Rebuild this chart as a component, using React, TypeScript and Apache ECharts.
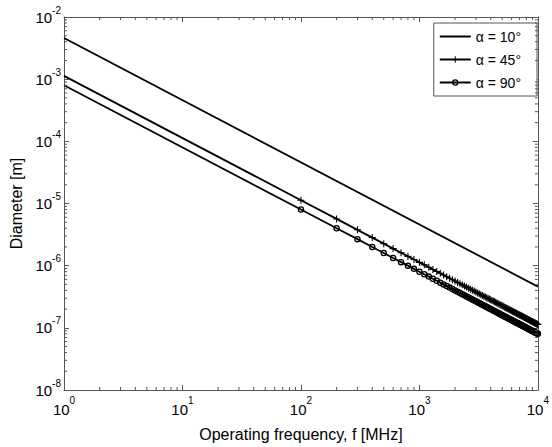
import React, { useEffect, useRef } from "react";
import * as echarts from "echarts";

// Operating frequency samples [MHz]
const freqMHz = [
  1, 100, 200, 300, 400, 500, 600, 700, 800, 900, 1000,
  1100, 1200, 1300, 1400, 1500, 1600, 1700, 1800, 1900, 2000,
  2100, 2200, 2300, 2400, 2500, 2600, 2700, 2800, 2900, 3000,
  3100, 3200, 3300, 3400, 3500, 3600, 3700, 3800, 3900, 4000,
  4100, 4200, 4300, 4400, 4500, 4600, 4700, 4800, 4900, 5000,
  5100, 5200, 5300, 5400, 5500, 5600, 5700, 5800, 5900, 6000,
  6100, 6200, 6300, 6400, 6500, 6600, 6700, 6800, 6900, 7000,
  7100, 7200, 7300, 7400, 7500, 7600, 7700, 7800, 7900, 8000,
  8100, 8200, 8300, 8400, 8500, 8600, 8700, 8800, 8900, 9000,
  9100, 9200, 9300, 9400, 9500, 9600, 9700, 9800, 9900, 10000,
];

// alpha = 10 deg (no markers): end points [MHz] and diameters [um]
const freq10 = [1, 10000];
const diam10um = [4600, 0.46];

// alpha = 45 deg diameters [um]
const diam45um = [
  1130, 11.3, 5.65, 3.77, 2.83, 2.26, 1.88, 1.61, 1.41, 1.26, 1.13,
  1.03, 0.942, 0.869, 0.807, 0.753, 0.706, 0.665, 0.628, 0.595, 0.565,
  0.538, 0.514, 0.491, 0.471, 0.452, 0.435, 0.419, 0.404, 0.39, 0.377,
  0.365, 0.353, 0.342, 0.332, 0.323, 0.314, 0.305, 0.297, 0.29, 0.283,
  0.276, 0.269, 0.263, 0.257, 0.251, 0.246, 0.24, 0.235, 0.231, 0.226,
  0.222, 0.217, 0.213, 0.209, 0.205, 0.202, 0.198, 0.195, 0.192, 0.188,
  0.185, 0.182, 0.179, 0.177, 0.174, 0.171, 0.169, 0.166, 0.164, 0.161,
  0.159, 0.157, 0.155, 0.153, 0.151, 0.149, 0.147, 0.145, 0.143, 0.141,
  0.14, 0.138, 0.136, 0.135, 0.133, 0.131, 0.13, 0.128, 0.127, 0.126,
  0.124, 0.123, 0.122, 0.12, 0.119, 0.118, 0.116, 0.115, 0.114, 0.113,
];

// alpha = 90 deg diameters [um]
const diam90um = [
  800, 8, 4, 2.67, 2, 1.6, 1.33, 1.14, 1, 0.889, 0.8,
  0.727, 0.667, 0.615, 0.571, 0.533, 0.5, 0.471, 0.444, 0.421, 0.4,
  0.381, 0.364, 0.348, 0.333, 0.32, 0.308, 0.296, 0.286, 0.276, 0.267,
  0.258, 0.25, 0.242, 0.235, 0.229, 0.222, 0.216, 0.211, 0.205, 0.2,
  0.195, 0.19, 0.186, 0.182, 0.178, 0.174, 0.17, 0.167, 0.163, 0.16,
  0.157, 0.154, 0.151, 0.148, 0.145, 0.143, 0.14, 0.138, 0.136, 0.133,
  0.131, 0.129, 0.127, 0.125, 0.123, 0.121, 0.119, 0.118, 0.116, 0.114,
  0.113, 0.111, 0.11, 0.108, 0.107, 0.105, 0.104, 0.103, 0.101, 0.1,
  0.0988, 0.0976, 0.0964, 0.0952, 0.0941, 0.093, 0.092, 0.0909, 0.0899, 0.0889,
  0.0879, 0.087, 0.086, 0.0851, 0.0842, 0.0833, 0.0825, 0.0816, 0.0808, 0.08,
];

const seriesNames = ["α = 10°", "α = 45°", "α = 90°"];

// Axis ranges and minor tick multipliers
const X_MIN = 1;
const X_MAX = 10000;
const Y_MIN = 1e-8;
const Y_MAX = 1e-2;
const xDecades = [1, 10, 100, 1000];
const yDecades = [1e-8, 1e-7, 1e-6, 1e-5, 1e-4, 1e-3];
const minorMultipliers = [2, 3, 4, 5, 6, 7, 8, 9];

const FONT = "'Liberation Sans', Arial, Helvetica, sans-serif";
const AXIS_COLOR = "#555";
const UM = 1e-6;

const PLUS_PATH =
  "path://M-0.15,-1H0.15V-0.15H1V0.15H0.15V1H-0.15V0.15H-1V-0.15H-0.15Z";
// open ring (outer clockwise, inner counter-clockwise -> hole)
const RING_PATH =
  "path://M1,0A1,1 0 1,1 -1,0A1,1 0 1,1 1,0Z M0.6,0A0.6,0.6 0 1,0 -0.6,0A0.6,0.6 0 1,0 0.6,0Z";

function expOf(v: number) {
  return Math.round(Math.log10(v));
}

export default function App() {
  const ref = useRef<HTMLDivElement>(null);

  useEffect(() => {
    if (!ref.current) return;
    const chart = echarts.init(ref.current, undefined, { renderer: "svg" });

    const minorData: number[][] = [];
    xDecades.forEach((d) =>
      minorMultipliers.forEach((m) => minorData.push([m * d, 1e-5, 0]))
    );
    yDecades.forEach((d) =>
      minorMultipliers.forEach((m) => minorData.push([10, m * d, 1]))
    );

    const data10 = freq10.map((f, i) => [f, diam10um[i] * UM]);
    const data45 = freqMHz.map((f, i) =>
      i === 0
        ? { value: [f, diam45um[i] * UM], symbol: "none" }
        : [f, diam45um[i] * UM]
    );
    const data90 = freqMHz.map((f, i) =>
      i === 0
        ? { value: [f, diam90um[i] * UM], symbol: "none" }
        : [f, diam90um[i] * UM]
    );

    const baseAxis = {
      type: "log" as const,
      logBase: 10,
      axisLine: { show: true, lineStyle: { color: AXIS_COLOR, width: 1 } },
      axisTick: { show: true, inside: true, length: 5, lineStyle: { color: AXIS_COLOR } },
      splitLine: { show: false },
      minorTick: { show: false },
    };

    const xLabelRich = {
      b: { fontSize: 15, fontFamily: FONT, color: "#000", verticalAlign: "middle", lineHeight: 28 },
      s: { fontSize: 10, fontFamily: FONT, color: "#000", verticalAlign: "top", lineHeight: 10 },
    };
    const yLabelRich = {
      b: { fontSize: 15, fontFamily: FONT, color: "#000", verticalAlign: "middle", lineHeight: 24 },
      s: { fontSize: 10, fontFamily: FONT, color: "#000", verticalAlign: "top", lineHeight: 10 },
    };

    chart.setOption({
      animation: false,
      backgroundColor: "#fff",
      grid: { left: 64, right: 11, top: 17, bottom: 56, containLabel: false },
      legend: {
        data: [
          { name: seriesNames[0], itemStyle: { opacity: 0 } },
          { name: seriesNames[1] },
          { name: seriesNames[2] },
        ],
        orient: "vertical",
        right: 15,
        top: 23,
        padding: [5, 16, 5, 5],
        itemWidth: 31,
        itemHeight: 8,
        itemGap: 6,
        itemTextGap: 4,
        backgroundColor: "#fff",
        borderColor: AXIS_COLOR,
        borderWidth: 1,
        borderRadius: 0,
        textStyle: { fontSize: 14, fontFamily: FONT, color: "#000", lineHeight: 17 },
      },
      xAxis: [
        {
          ...baseAxis,
          position: "bottom",
          min: X_MIN,
          max: X_MAX,
          splitNumber: 4,
          name: "Operating frequency, f [MHz]",
          nameLocation: "middle",
          nameGap: 36,
          nameTextStyle: { fontSize: 16, fontFamily: FONT, color: "#000" },
          axisLabel: {
            margin: 5,
            formatter: (v: number) => `{b|10}{s|${expOf(v)}}`,
            rich: xLabelRich,
          },
        },
        {
          ...baseAxis,
          position: "top",
          min: X_MIN,
          max: X_MAX,
          splitNumber: 4,
          axisLabel: { show: false },
        },
      ],
      yAxis: [
        {
          ...baseAxis,
          position: "left",
          min: Y_MIN,
          max: Y_MAX,
          splitNumber: 6,
          name: "Diameter [m]",
          nameLocation: "middle",
          nameGap: 37,
          nameTextStyle: { fontSize: 16, fontFamily: FONT, color: "#000" },
          axisLabel: {
            margin: 3,
            formatter: (v: number) => `{b|10}{s|${expOf(v)}}`,
            rich: yLabelRich,
          },
        },
        {
          ...baseAxis,
          position: "right",
          min: Y_MIN,
          max: Y_MAX,
          splitNumber: 6,
          axisLabel: { show: false },
        },
      ],
      series: [
        {
          name: seriesNames[0],
          type: "line",
          data: data10,
          symbol: "none",
          lineStyle: { color: "#000", width: 1.8 },
          itemStyle: { color: "#000" },
          z: 3,
        },
        {
          name: seriesNames[1],
          type: "line",
          data: data45,
          symbol: PLUS_PATH,
          symbolSize: 7,
          showAllSymbol: true,
          lineStyle: { color: "#000", width: 1.8 },
          itemStyle: { color: "#000" },
          z: 3,
        },
        {
          name: seriesNames[2],
          type: "line",
          data: data90,
          symbol: RING_PATH,
          symbolSize: 6.5,
          showAllSymbol: true,
          lineStyle: { color: "#000", width: 1.8 },
          itemStyle: { color: "#000" },
          z: 3,
        },
        {
          type: "custom",
          silent: true,
          xAxisIndex: 0,
          yAxisIndex: 0,
          data: minorData,
          z: 4,
          renderItem: (params: any, api: any) => {
            const kind = api.value(2);
            const style = { stroke: AXIS_COLOR, lineWidth: 1 };
            if (kind === 0) {
              const v = api.value(0);
              const b = api.coord([v, Y_MIN]);
              const t = api.coord([v, Y_MAX]);
              return {
                type: "group",
                children: [
                  { type: "line", shape: { x1: b[0], y1: b[1], x2: b[0], y2: b[1] - 3 }, style },
                  { type: "line", shape: { x1: t[0], y1: t[1], x2: t[0], y2: t[1] + 3 }, style },
                ],
              };
            }
            const v = api.value(1);
            const l = api.coord([X_MIN, v]);
            const r = api.coord([X_MAX, v]);
            return {
              type: "group",
              children: [
                { type: "line", shape: { x1: l[0], y1: l[1], x2: l[0] + 3, y2: l[1] }, style },
                { type: "line", shape: { x1: r[0], y1: r[1], x2: r[0] - 3, y2: r[1] }, style },
              ],
            };
          },
        },
      ],
    });

    return () => chart.dispose();
  }, []);

  return (
    <div
      ref={ref}
      style={{ position: "fixed", left: 0, top: 0, width: 552, height: 447 }}
    />
  );
}
